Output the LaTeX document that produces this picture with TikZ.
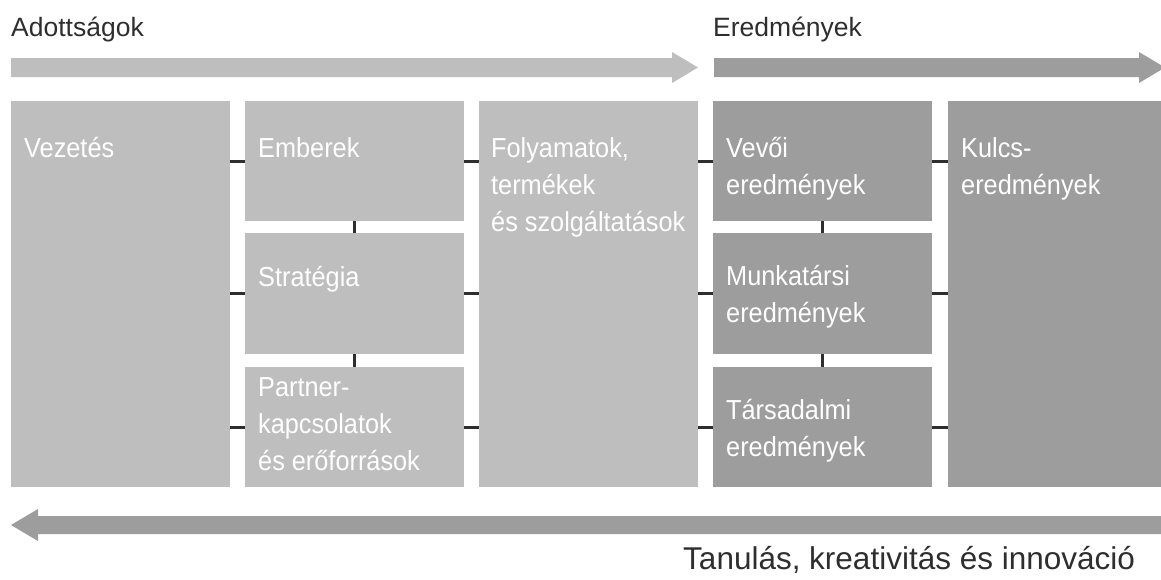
\documentclass[tikz,border=0pt]{standalone}
\usepackage{fontspec}
\setmainfont{Liberation Sans}
\newfontfamily\narrowfont{Liberation Sans}[FakeStretch=0.92]
\definecolor{lightg}{HTML}{BEBEBE}
\definecolor{darkg}{HTML}{9D9D9D}
\definecolor{ink}{HTML}{2E2E2E}
\newcommand\twoline[2]{\vtop{\hbox{#1}\hbox{#2}}}
\newcommand\threeline[3]{\vtop{\hbox{#1}\hbox{#2}\hbox{#3}}}
\begin{document}
\begin{tikzpicture}[x=1pt,y=-1pt,
  boxbase/.style={draw=none, anchor=north west, inner sep=0pt, minimum width=219pt},
  lbox/.style={boxbase, fill=lightg},
  dbox/.style={boxbase, fill=darkg},
  txt/.style={anchor=base west, inner sep=0pt, text=white, font=\narrowfont\fontsize{27.5}{37}\selectfont},
  head/.style={anchor=base west, inner sep=0pt, text=ink, font=\fontsize{26.5}{32}\selectfont},
  conn/.style={draw=ink, line width=3pt}]
\useasboundingbox (0,0) rectangle (1161,579);
\clip (0,0) rectangle (1161,579);
% headings
\node[head] (hadott) at (11,36) {Adottságok};
\node[head] (heredm) at (713,36) {Eredmények};
\node[head, font=\fontsize{31.5}{36}\selectfont] (htanul) at (683,569) {Tanulás, kreativitás és innováció};
% arrows
\fill[lightg] (11,58) -- (672,58) -- (672,52) -- (698,67.5) -- (672,83) -- (672,77) -- (11,77) -- cycle;
\fill[darkg] (714,58) -- (1139,58) -- (1139,52) -- (1165,67.5) -- (1139,83) -- (1139,77) -- (714,77) -- cycle;
\fill[darkg] (1165,516) -- (38,516) -- (38,509) -- (11,525) -- (38,541) -- (38,534) -- (1165,534) -- cycle;
% boxes
\node[lbox, minimum height=386pt] (vez) at (11,101) {};
\node[lbox, minimum height=120pt] (emb) at (245,101) {};
\node[lbox, minimum height=121pt] (str) at (245,233) {};
\node[lbox, minimum height=120pt] (par) at (245,367) {};
\node[lbox, minimum height=386pt] (fol) at (479,101) {};
\node[dbox, minimum height=120pt] (vev) at (713,101) {};
\node[dbox, minimum height=121pt] (mun) at (713,233) {};
\node[dbox, minimum height=120pt] (tar) at (713,367) {};
\node[dbox, minimum height=386pt, minimum width=217pt] (kul) at (948,101) {};
% texts
\node[txt] (tvez) at (24,157) {Vezetés};
\node[txt] (temb) at (258,157) {Emberek};
\node[txt] (tstr) at (258,286) {Stratégia};
\node[txt] (tpar) at (258,396) {\threeline{Partner-}{kapcsolatok}{és erőforrások}};
\node[txt] (tfol) at (491,157) {\threeline{Folyamatok,}{termékek}{és szolgáltatások}};
\node[txt] (tvev) at (726,157) {\twoline{Vevői}{eredmények}};
\node[txt] (tmun) at (726,285) {\twoline{Munkatársi}{eredmények}};
\node[txt] (ttar) at (726,419) {\twoline{Társadalmi}{eredmények}};
\node[txt] (tkul) at (961,157) {\twoline{Kulcs-}{eredmények}};
% connectors
\foreach \r in {emb,str,par}{
  \draw[conn] (vez.east |- \r) -- (\r.west);
  \draw[conn] (\r.east) -- (fol.west |- \r);
}
\foreach \r in {vev,mun,tar}{
  \draw[conn] (fol.east |- \r) -- (\r.west);
  \draw[conn] (\r.east) -- (kul.west |- \r);
}
\draw[conn] (emb.south) -- (str.north);
\draw[conn] (str.south) -- (par.north);
\draw[conn] (vev.south) -- (mun.north);
\draw[conn] (mun.south) -- (tar.north);
\end{tikzpicture}
\end{document}
